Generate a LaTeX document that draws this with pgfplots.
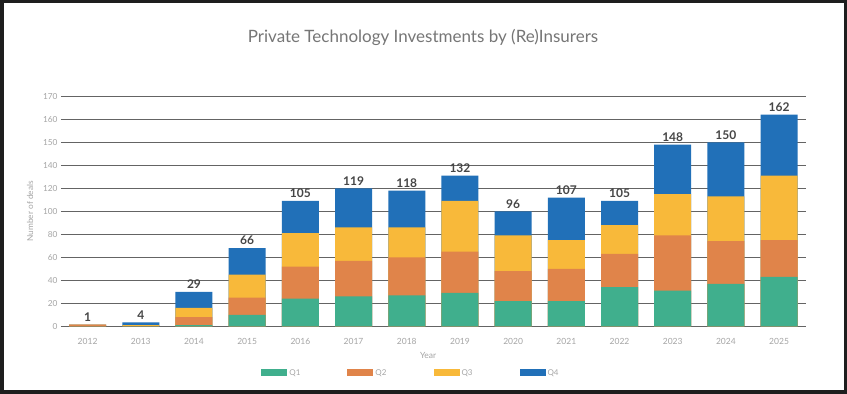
\documentclass[border=0pt]{standalone}
\usepackage{pgfplots}
\pgfplotsset{compat=1.18}
\usepackage{pgfplotstable}
\usepackage{fontspec}
\setmainfont{Lato}
\definecolor{cQ1}{RGB}{64,175,141}
\definecolor{cQ2}{RGB}{224,132,74}
\definecolor{cQ3}{RGB}{248,185,58}
\definecolor{cQ4}{RGB}{33,112,184}
\definecolor{gridc}{RGB}{100,100,100}
\definecolor{ticklab}{RGB}{165,165,165}
\definecolor{titlec}{RGB}{118,118,118}
\definecolor{labc}{RGB}{70,70,70}
\definecolor{framec}{RGB}{30,30,30}
\pgfplotstableread{
x year Q1 Q2 Q3 Q4 label
0 2012 0 1.5 0 0 1
1 2013 0 0 1 2.5 4
2 2014 1 7 8 14 29
3 2015 10 15 20 23 66
4 2016 24 28 29 28 105
5 2017 26 31 29 34 119
6 2018 27 33 26 32 118
7 2019 29 36 44 22 132
8 2020 22 26 31 21 96
9 2021 22 28 25 37 107
10 2022 34 29 25 21 105
11 2023 31 48 36 34 148
12 2024 37 37 39 37 150
13 2025 43 32 56 31 162
}\deals
\begin{document}
\begin{tikzpicture}
\fill[framec] (0pt,0pt) rectangle (847pt,394pt);
\fill[white] (4pt,4pt) rectangle (844pt,391pt);
\node[text=titlec, font=\fontsize{17}{20}\selectfont] at (423pt,357pt) {Private Technology Investments by (Re)Insurers};
\begin{axis}[
  at={(61pt,67.7pt)}, anchor=south west,
  scale only axis, width=744.7pt, height=230pt,
  xmin=-0.5, xmax=13.5, ymin=0, ymax=170,
  y coord trafo/.code={\pgfmathparse{#1>140 ? 140+2*(#1-140) : #1}},
  axis line style={draw=none},
  major tick length=0pt,
  xtick={0,...,13},
  xticklabels={2012,2013,2014,2015,2016,2017,2018,2019,2020,2021,2022,2023,2024,2025},
  ytick={0,20,40,60,80,100,120,140,150,160,170},
  yticklabels={0,20,40,60,80,100,120,140,150,160,170},
  ymajorgrids,
  grid style={draw=gridc, line width=1.1pt},
  xticklabel style={font=\fontsize{8.5}{10}\selectfont, text=ticklab, anchor=center, yshift=-14.7pt},
  yticklabel style={font=\fontsize{8.3}{10}\selectfont, text=ticklab},
  xlabel={Year},
  ylabel={Number of deals},
  every axis x label/.style={at={(axis description cs:0.493,-0.125)}, anchor=center, font=\fontsize{8.5}{10}\selectfont, text=ticklab},
  every axis y label/.style={at={(axis description cs:-0.0416,0.5)}, rotate=90, anchor=center, font=\fontsize{8.3}{10}\selectfont, text=ticklab},
  legend style={at={(axis description cs:0.47,-0.203)}, anchor=center, draw=none, fill=none,
    legend columns=4, font=\fontsize{8}{10}\selectfont, text=ticklab,
    /tikz/every even column/.append style={column sep=45pt}},
  reverse legend,
]
\addplot[ybar, bar width=37pt, bar shift=0pt, fill=cQ4, draw=none,
  legend image code/.code={\fill[cQ4] (0pt,-3.5pt) rectangle (26pt,3.5pt);},
  nodes near coords, point meta=explicit symbolic,
  every node near coord/.append style={font=\fontsize{12}{14}\selectfont\bfseries, text=labc, inner sep=3pt}]
  table[x=x, y expr=\thisrow{Q1}+\thisrow{Q2}+\thisrow{Q3}+\thisrow{Q4}, meta=label] {\deals};
\addlegendentry{Q4}
\addplot[ybar, bar width=37pt, bar shift=0pt, fill=cQ3, draw=none,
  legend image code/.code={\fill[cQ3] (0pt,-3.5pt) rectangle (26pt,3.5pt);}]
  table[x=x, y expr=\thisrow{Q1}+\thisrow{Q2}+\thisrow{Q3}] {\deals};
\addlegendentry{Q3}
\addplot[ybar, bar width=37pt, bar shift=0pt, fill=cQ2, draw=none,
  legend image code/.code={\fill[cQ2] (0pt,-3.5pt) rectangle (26pt,3.5pt);}]
  table[x=x, y expr=\thisrow{Q1}+\thisrow{Q2}] {\deals};
\addlegendentry{Q2}
\addplot[ybar, bar width=37pt, bar shift=0pt, fill=cQ1, draw=none,
  legend image code/.code={\fill[cQ1] (0pt,-3.5pt) rectangle (26pt,3.5pt);}]
  table[x=x, y=Q1] {\deals};
\addlegendentry{Q1}
\end{axis}
\end{tikzpicture}
\end{document}
